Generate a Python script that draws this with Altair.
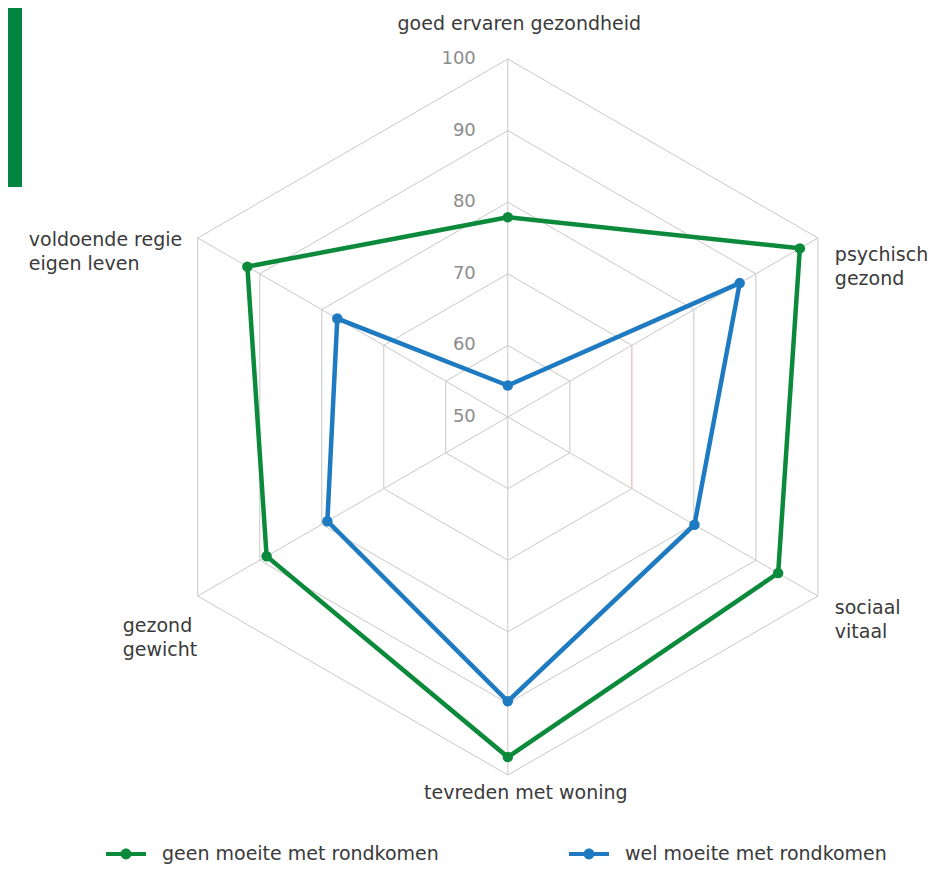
import altair as alt
import pandas as pd

# ---- data ----
categories = [
    "goed ervaren gezondheid",
    "psychisch\ngezond",
    "sociaal\nvitaal",
    "tevreden met woning",
    "gezond\ngewicht",
    "voldoende regie\neigen leven",
]
geen_moeite = [77.9, 97.1, 93.6, 97.5, 88.9, 92.0]
wel_moeite = [54.4, 87.4, 80.1, 89.7, 79.1, 77.5]
series_names = ["geen moeite met rondkomen", "wel moeite met rondkomen"]
series_colors = ["#0b8a3b", "#1f7bc1"]
ticks = [50, 60, 70, 80, 90, 100]

n = len(categories)

series_rows = []
for name, vals in zip(series_names, [geen_moeite, wel_moeite]):
    for i in range(n + 1):
        series_rows.append({"series": name, "idx": i, "value": vals[i % n]})
series_df = pd.DataFrame(series_rows)

ring_rows = []
for t in ticks[1:]:
    for i in range(n + 1):
        ring_rows.append({"ring": t, "idx": i, "value": t})
ring_df = pd.DataFrame(ring_rows)

spoke_df = pd.DataFrame({"idx": list(range(n)), "value": [ticks[-1]] * n})
tick_df = pd.DataFrame({"value": ticks, "label": [str(t) for t in ticks]})
label_df = pd.DataFrame({"idx": list(range(n)), "value": [ticks[-1]] * n, "label": categories})

# ---- geometry through scales ----
W, H = 922, 857
R = 358.0
CX, CY = 499.8, 409.0
xs = alt.Scale(domain=[-CX / R, (W - CX) / R], nice=False, zero=False)
ys = alt.Scale(domain=[-(H - CY) / R, CY / R], nice=False, zero=False)


def polar(ch):
    return ch.transform_calculate(
        ang="datum.idx * PI / 3", r="(datum.value - 50) / 50"
    ).transform_calculate(px="datum.r * sin(datum.ang)", py="datum.r * cos(datum.ang)")


X = alt.X("px:Q", scale=xs, axis=None)
Y = alt.Y("py:Q", scale=ys, axis=None)

FONT = "DejaVu Sans"
GRID = "#c8c8c8"

rings = polar(alt.Chart(ring_df)).mark_line(color=GRID, strokeWidth=1).encode(
    x=X, y=Y, detail="ring:N", order="idx:Q"
)
pink = polar(alt.Chart(ring_df)).transform_filter(
    "datum.ring == 70 && (datum.idx == 1 || datum.idx == 2)"
).mark_line(color="#f0c4c4", strokeWidth=1).encode(x=X, y=Y, order="idx:Q")

spokes = polar(alt.Chart(spoke_df)).transform_calculate(cx="0", cy="0").mark_rule(
    color=GRID, strokeWidth=1
).encode(
    x=alt.X("cx:Q", scale=xs, axis=None),
    y=alt.Y("cy:Q", scale=ys, axis=None),
    x2="px:Q",
    y2="py:Q",
)

tick_labels = alt.Chart(tick_df).transform_calculate(
    tx="0", ty="(datum.value - 50) / 50"
).mark_text(
    align="right", baseline="middle", dx=-32, dy=0, font=FONT, fontSize=18, color="#8c8c8c"
).encode(
    x=alt.X("tx:Q", scale=xs, axis=None),
    y=alt.Y("ty:Q", scale=ys, axis=None),
    text="label:N",
)

label_style = [
    (0, "center", 11.5, -35),
    (1, "left", 17, 17),
    (2, "left", 17, 12),
    (3, "center", 18, 17.5),
    (4, "left", -75, 29.5),
    (5, "left", -169, 2),
]
cat_labels = []
for idx, align, dx, dy in label_style:
    cat_labels.append(
        polar(alt.Chart(label_df))
        .transform_filter(f"datum.idx == {idx}")
        .mark_text(
            align=align, baseline="middle", dx=dx, dy=dy, font=FONT, fontSize=19,
            color="#3a3a3a", lineBreak="\n", lineHeight=24,
        )
        .encode(x=X, y=Y, text="label:N")
    )

series_lines = []
for name, col in zip(series_names, series_colors):
    series_lines.append(
        polar(alt.Chart(series_df))
        .transform_filter(alt.datum.series == name)
        .mark_line(strokeWidth=4.5, color=col)
        .encode(x=X, y=Y, order="idx:Q")
    )

legend_symbol = (
    "M-1,-0.1L1,-0.1L1,0.1L-1,0.1Z "
    "M-0.27,0A0.27,0.27,0,1,1,0.27,0A0.27,0.27,0,1,1,-0.27,0Z"
)
points = polar(alt.Chart(series_df)).transform_filter(f"datum.idx < {n}").mark_point(
    filled=True, size=110, opacity=1
).encode(
    x=X, y=Y,
    color=alt.Color(
        "series:N",
        scale=alt.Scale(domain=series_names, range=series_colors),
        legend=alt.Legend(
            title=None, orient="none", legendX=98, legendY=826, direction="horizontal",
            symbolType=legend_symbol, symbolSize=1600, symbolStrokeWidth=0,
            labelFont=FONT, labelFontSize=19, labelColor="#3a3a3a", labelOffset=16,
            labelLimit=400, columnPadding=130, padding=0,
        ),
    ),
)

green_bar = alt.Chart(pd.DataFrame({"k": [0]})).mark_rect(color="#008540").encode(
    x=alt.value(0), x2=alt.value(14), y=alt.value(0), y2=alt.value(179)
)

chart = alt.layer(
    rings, spokes, pink, tick_labels, *cat_labels, *series_lines, points, green_bar
).properties(
    width=W, height=H, autosize=alt.AutoSizeParams(type="none"), padding=0
).configure_view(stroke=None)

chart.save("out.html", embed_options={"renderer": "svg", "actions": False})
